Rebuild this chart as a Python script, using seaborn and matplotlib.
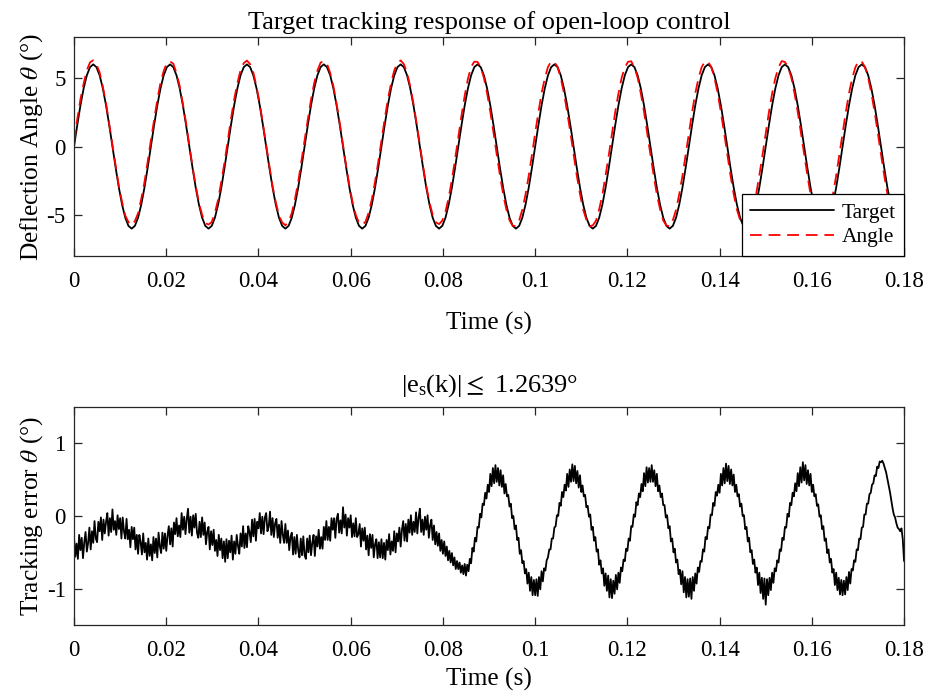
import numpy as np
import matplotlib
matplotlib.use("Agg")
import matplotlib.pyplot as plt
import seaborn as sns

# ---------------- data ----------------
# reference signal and measured deflection angle (deg), sampled 1440 Hz
target_deg = [
    0.00, 1.55, 3.00, 4.24, 5.20, 5.80, 6.00, 5.80, 5.20, 4.24, 3.00, 1.55,
    0.00, -1.55, -3.00, -4.24, -5.20, -5.80, -6.00, -5.80, -5.20, -4.24, -3.00, -1.55,
    0.00, 1.55, 3.00, 4.24, 5.20, 5.80, 6.00, 5.80, 5.20, 4.24, 3.00, 1.55,
    0.00, -1.55, -3.00, -4.24, -5.20, -5.80, -6.00, -5.80, -5.20, -4.24, -3.00, -1.55,
    0.00, 1.55, 3.00, 4.24, 5.20, 5.80, 6.00, 5.80, 5.20, 4.24, 3.00, 1.55,
    0.00, -1.55, -3.00, -4.24, -5.20, -5.80, -6.00, -5.80, -5.20, -4.24, -3.00, -1.55,
    0.00, 1.55, 3.00, 4.24, 5.20, 5.80, 6.00, 5.80, 5.20, 4.24, 3.00, 1.55,
    0.00, -1.55, -3.00, -4.24, -5.20, -5.80, -6.00, -5.80, -5.20, -4.24, -3.00, -1.55,
    0.00, 1.55, 3.00, 4.24, 5.20, 5.80, 6.00, 5.80, 5.20, 4.24, 3.00, 1.55,
    0.00, -1.55, -3.00, -4.24, -5.20, -5.80, -6.00, -5.80, -5.20, -4.24, -3.00, -1.55,
    0.00, 1.55, 3.00, 4.24, 5.20, 5.80, 6.00, 5.80, 5.20, 4.24, 3.00, 1.55,
    0.00, -1.55, -3.00, -4.24, -5.20, -5.80, -6.00, -5.80, -5.20, -4.24, -3.00, -1.55,
    0.00, 1.55, 3.00, 4.24, 5.20, 5.80, 6.00, 5.80, 5.20, 4.24, 3.00, 1.55,
    0.00, -1.55, -3.00, -4.24, -5.20, -5.80, -6.00, -5.80, -5.20, -4.24, -3.00, -1.55,
    0.00, 1.55, 3.00, 4.24, 5.20, 5.80, 6.00, 5.80, 5.20, 4.24, 3.00, 1.55,
    0.00, -1.55, -3.00, -4.24, -5.20, -5.80, -6.00, -5.80, -5.20, -4.24, -3.00, -1.55,
    0.00, 1.55, 3.00, 4.24, 5.20, 5.80, 6.00, 5.80, 5.20, 4.24, 3.00, 1.55,
    0.00, -1.55, -3.00, -4.24, -5.20, -5.80, -6.00, -5.80, -5.20, -4.24, -3.00, -1.55,
    0.00, 1.55, 3.00, 4.24, 5.20, 5.80, 6.00, 5.80, 5.20, 4.24, 3.00, 1.55,
    0.00, -1.55, -3.00, -4.24, -5.20, -5.80, -6.00, -5.80, -5.20, -4.24, -3.00, -1.55,
    0.00, 1.55, 3.00, 4.24, 5.20, 5.80, 6.00, 5.80, 5.20, 4.24, 3.00, 1.55,
    0.00, -1.55, -3.00, -4.24, -5.20, -5.80, -6.00, -5.80,
]

angle_deg = [
    0.30, 1.98, 3.45, 4.60, 5.58, 6.15, 6.30, 6.00, 5.41, 4.36, 3.15, 1.62,
    0.12, -1.40, -2.90, -4.05, -5.05, -5.52, -5.75, -5.45, -4.88, -3.82, -2.60, -1.10,
    0.46, 1.95, 3.40, 4.66, 5.52, 6.12, 6.22, 6.05, 5.36, 4.41, 3.10, 1.69,
    0.08, -1.46, -2.85, -4.12, -4.99, -5.60, -5.70, -5.52, -4.83, -3.88, -2.55, -1.15,
    0.42, 2.00, 3.44, 4.61, 5.57, 6.09, 6.28, 6.01, 5.40, 4.37, 3.14, 1.64,
    0.12, -1.42, -2.90, -4.07, -5.04, -5.55, -5.76, -5.47, -4.87, -3.83, -2.60, -1.10,
    0.45, 1.97, 3.41, 4.64, 5.54, 6.13, 6.25, 6.04, 5.37, 4.40, 3.11, 1.67,
    0.09, -1.45, -2.87, -4.10, -5.01, -5.58, -5.72, -5.50, -4.84, -3.86, -2.57, -1.13,
    0.43, 1.99, 3.43, 4.62, 5.56, 6.10, 6.29, 6.02, 5.40, 4.38, 3.13, 1.65,
    0.11, -1.43, -2.89, -4.08, -4.99, -5.54, -5.67, -5.41, -4.75, -3.73, -2.42, -0.92,
    0.70, 2.27, 3.72, 4.94, 5.82, 6.20, 6.18, 5.80, 5.01, 3.89, 2.52, 1.00,
    -0.58, -2.10, -3.48, -4.59, -5.39, -5.80, -5.80, -5.40, -4.61, -3.49, -2.12, -0.60,
    0.98, 2.48, 3.90, 4.97, 5.81, 6.22, 6.17, 5.82, 4.99, 3.91, 2.50, 1.02,
    -0.56, -2.12, -3.46, -4.61, -5.36, -5.83, -5.76, -5.42, -4.58, -3.51, -2.10, -0.62,
    0.96, 2.52, 3.86, 5.01, 5.77, 6.19, 6.23, 5.78, 5.03, 3.87, 2.54, 0.98,
    -0.60, -2.08, -3.50, -4.57, -5.41, -5.77, -5.83, -5.38, -4.63, -3.47, -2.14, -0.58,
    1.00, 2.49, 3.89, 4.98, 5.80, 6.21, 6.19, 5.81, 5.00, 3.90, 2.51, 1.01,
    -0.57, -2.11, -3.47, -4.60, -5.37, -5.82, -5.78, -5.41, -4.60, -3.50, -2.11, -0.61,
    0.97, 2.51, 3.87, 5.00, 5.78, 6.24, 6.18, 5.79, 5.02, 3.88, 2.53, 0.99,
    -0.59, -2.09, -3.49, -4.58, -5.40, -5.79, -5.81, -5.39, -4.62, -3.48, -2.13, -0.59,
    0.99, 2.50, 3.88, 4.99, 5.79, 6.26, 6.21, 5.80, 5.01, 3.89, 2.52, 1.00,
    -0.58, -2.10, -3.48, -4.59, -5.39, -5.80, -5.80, -5.40,
]

# tracking error (deg), sampled 3600 Hz
error_deg = [
    -0.30, -0.56, -0.38, -0.59, -0.26, -0.47, -0.30, -0.58, -0.36, -0.22,
    -0.49, -0.37, -0.16, -0.46, -0.21, -0.37, -0.07, -0.31, -0.36, -0.08,
    -0.21, -0.02, -0.33, -0.05, -0.24, -0.08, 0.04, -0.27, -0.03, -0.22,
    0.09, -0.19, -0.07, -0.26, 0.01, -0.18, -0.03, -0.31, -0.02, -0.21,
    -0.31, -0.04, -0.32, -0.19, -0.43, -0.15, -0.32, -0.16, -0.46, -0.26,
    -0.52, -0.26, -0.36, -0.53, -0.24, -0.50, -0.37, -0.60, -0.31, -0.55,
    -0.39, -0.61, -0.29, -0.51, -0.31, -0.57, -0.23, -0.42, -0.51, -0.23,
    -0.45, -0.24, -0.48, -0.27, -0.14, -0.39, -0.17, -0.42, -0.09, -0.25,
    -0.03, -0.28, -0.13, -0.29, 0.04, -0.19, -0.01, -0.25, -0.04, 0.10,
    -0.23, -0.01, -0.27, 0.01, -0.16, 0.03, -0.23, -0.30, -0.08, -0.29,
    -0.02, -0.26, -0.09, -0.39, -0.22, -0.15, -0.46, -0.21, -0.40, -0.19,
    -0.48, -0.33, -0.55, -0.26, -0.47, -0.31, -0.58, -0.35, -0.63, -0.32,
    -0.58, -0.34, -0.50, -0.27, -0.60, -0.35, -0.52, -0.26, -0.41, -0.52,
    -0.24, -0.42, -0.14, -0.44, -0.24, -0.43, -0.14, -0.22, -0.36, -0.05,
    -0.28, -0.04, -0.34, -0.08, -0.17, 0.04, -0.24, -0.01, -0.25, -0.02,
    0.04, -0.21, -0.15, 0.06, -0.26, -0.03, -0.29, -0.10, -0.04, -0.30,
    -0.12, -0.37, -0.07, -0.26, -0.37, -0.11, -0.37, -0.20, -0.47, -0.29,
    -0.23, -0.53, -0.29, -0.52, -0.26, -0.47, -0.57, -0.31, -0.54, -0.28,
    -0.54, -0.59, -0.31, -0.50, -0.27, -0.54, -0.37, -0.26, -0.55, -0.28,
    -0.42, -0.19, -0.45, -0.29, -0.45, -0.15, -0.33, -0.07, -0.33, -0.15,
    -0.34, -0.03, -0.19, -0.03, -0.30, -0.04, 0.03, -0.23, -0.06, -0.24,
    0.12, -0.16, 0.02, -0.27, -0.03, -0.16, 0.01, -0.29, -0.10, -0.28,
    -0.03, -0.29, -0.25, -0.11, -0.42, -0.17, -0.34, -0.16, -0.46, -0.27,
    -0.54, -0.25, -0.44, -0.26, -0.57, -0.39, -0.32, -0.58, -0.36, -0.57,
    -0.32, -0.58, -0.37, -0.60, -0.33, -0.47, -0.25, -0.53, -0.35, -0.48,
    -0.21, -0.50, -0.24, -0.35, -0.16, -0.42, -0.19, -0.07, -0.34, -0.11,
    -0.35, -0.05, -0.23, 0.01, -0.26, -0.08, -0.22, 0.05, -0.24, -0.02,
    0.10, -0.22, -0.05, -0.26, -0.01, -0.19, 0.01, -0.30, -0.13, -0.05,
    -0.33, -0.13, -0.39, -0.22, -0.41, -0.24, -0.48, -0.33, -0.52, -0.35,
    -0.55, -0.42, -0.61, -0.48, -0.64, -0.51, -0.68, -0.57, -0.73, -0.62,
    -0.73, -0.64, -0.78, -0.68, -0.80, -0.66, -0.82, -0.67, -0.76, -0.59,
    -0.65, -0.44, -0.49, -0.30, -0.35, -0.15, -0.16, 0.03, -0.02, 0.17,
    0.15, 0.32, 0.24, 0.43, 0.33, 0.58, 0.41, 0.66, 0.45, 0.70,
    0.47, 0.66, 0.42, 0.63, 0.40, 0.56, 0.31, 0.44, 0.27, 0.29,
    0.13, 0.17, -0.03, 0.00, -0.18, -0.13, -0.33, -0.30, -0.52, -0.47,
    -0.65, -0.62, -0.79, -0.73, -0.93, -0.78, -1.03, -0.84, -1.09, -0.88,
    -1.09, -0.87, -1.10, -0.84, -1.01, -0.76, -0.90, -0.72, -0.75, -0.61,
    -0.57, -0.46, -0.46, -0.31, -0.31, -0.16, -0.14, 0.01, 0.00, 0.18,
    0.14, 0.33, 0.26, 0.43, 0.35, 0.58, 0.40, 0.64, 0.47, 0.71,
    0.48, 0.69, 0.45, 0.62, 0.39, 0.56, 0.33, 0.42, 0.27, 0.29,
    0.12, 0.14, -0.01, 0.02, -0.19, -0.15, -0.34, -0.29, -0.49, -0.46,
    -0.67, -0.61, -0.79, -0.72, -0.96, -0.79, -1.03, -0.82, -1.12, -0.87,
    -1.13, -0.89, -1.07, -0.81, -1.01, -0.78, -0.92, -0.71, -0.76, -0.60,
    -0.62, -0.45, -0.48, -0.31, -0.34, -0.14, -0.15, 0.02, -0.01, 0.19,
    0.15, 0.31, 0.26, 0.44, 0.34, 0.59, 0.41, 0.67, 0.46, 0.66,
    0.47, 0.70, 0.47, 0.63, 0.41, 0.58, 0.34, 0.42, 0.26, 0.31,
    0.15, 0.15, -0.02, 0.01, -0.17, -0.14, -0.35, -0.31, -0.50, -0.45,
    -0.64, -0.60, -0.80, -0.74, -0.94, -0.76, -1.05, -0.84, -1.12, -0.87,
    -1.11, -0.86, -1.14, -0.84, -1.03, -0.79, -0.93, -0.71, -0.77, -0.62,
    -0.63, -0.46, -0.49, -0.29, -0.32, -0.15, -0.17, 0.02, 0.01, 0.18,
    0.14, 0.33, 0.28, 0.43, 0.32, 0.58, 0.42, 0.66, 0.45, 0.72,
    0.48, 0.69, 0.44, 0.64, 0.42, 0.57, 0.33, 0.43, 0.27, 0.30,
    0.13, 0.17, 0.00, 0.01, -0.18, -0.15, -0.35, -0.30, -0.50, -0.47,
    -0.66, -0.60, -0.78, -0.71, -0.95, -0.78, -1.06, -0.85, -1.14, -0.86,
    -1.22, -0.87, -1.09, -0.85, -1.02, -0.78, -0.92, -0.72, -0.76, -0.61,
    -0.64, -0.46, -0.48, -0.30, -0.33, -0.15, -0.16, 0.03, -0.01, 0.18,
    0.15, 0.32, 0.27, 0.45, 0.34, 0.59, 0.41, 0.67, 0.46, 0.74,
    0.49, 0.70, 0.44, 0.63, 0.42, 0.58, 0.33, 0.43, 0.27, 0.30,
    0.14, 0.16, -0.01, 0.01, -0.18, -0.14, -0.34, -0.31, -0.51, -0.46,
    -0.64, -0.59, -0.78, -0.73, -0.95, -0.78, -1.02, -0.85, -1.08, -0.88,
    -1.09, -0.89, -1.08, -0.84, -1.02, -0.77, -0.93, -0.73, -0.75, -0.61,
    -0.63, -0.46, -0.47, -0.31, -0.32, -0.16, -0.15, 0.02, 0.02, 0.17,
    0.17, 0.30, 0.32, 0.43, 0.45, 0.56, 0.55, 0.68, 0.66, 0.75,
    0.74, 0.76, 0.72, 0.66, 0.60, 0.51, 0.42, 0.33, 0.22, 0.11,
    0.02, -0.02, -0.10, -0.16, -0.18, -0.21, -0.17, -0.32, -0.62,
]

time_ticks = [0, 0.02, 0.04, 0.06, 0.08, 0.10, 0.12, 0.14, 0.16, 0.18]
time_tick_labels = ["0", "0.02", "0.04", "0.06", "0.08", "0.1", "0.12", "0.14", "0.16", "0.18"]
angle_ticks = [-5, 0, 5]
angle_tick_labels = ["-5", "0", "5"]
error_ticks = [-1, 0, 1]
error_tick_labels = ["-1", "0", "1"]

ANGLE_RATE = 1440.0   # Hz
ERROR_RATE = 3600.0   # Hz
t_angle = np.arange(len(target_deg)) / ANGLE_RATE
t_error = np.arange(len(error_deg)) / ERROR_RATE

# ---------------- style ----------------
sns.set_theme(style="ticks")
ink = "#262626"
plt.rcParams.update({
    "font.family": ["Liberation Serif", "DejaVu Serif"],
    "mathtext.fontset": "stix",
    "axes.unicode_minus": False,
    "axes.edgecolor": ink,
    "axes.linewidth": 0.9,
    "xtick.color": ink,
    "ytick.color": ink,
    "xtick.labelcolor": "black",
    "ytick.labelcolor": "black",
    "text.color": "black",
    "axes.labelcolor": "black",
})

fig = plt.figure(figsize=(9.3, 6.97), dpi=100)
ax1 = fig.add_axes([0.0796, 0.6327, 0.8925, 0.3142])
ax2 = fig.add_axes([0.0796, 0.1033, 0.8925, 0.3128])

TICK_FS = 16.5
LABEL_FS = 18.3
TITLE_FS = 19
LW = 1.3

# ---- upper panel: target vs. measured angle ----
sns.lineplot(x=t_angle, y=target_deg, ax=ax1, color="black", linewidth=LW,
             label="Target", estimator=None, sort=False)
sns.lineplot(x=t_angle, y=angle_deg, ax=ax1, color="red", linewidth=LW,
             linestyle="--", label="Angle", estimator=None, sort=False)
ax1.lines[-1].set_dashes((6.5, 3.8))

ax1.set_xlim(0, 0.18)
ax1.set_ylim(-8, 8)
ax1.set_xticks(time_ticks)
ax1.set_xticklabels(time_tick_labels)
ax1.set_yticks(angle_ticks)
ax1.set_yticklabels(angle_tick_labels)
ax1.set_title("Target tracking response of open-loop control", fontsize=TITLE_FS, pad=6)
ax1.set_xlabel("Time (s)", fontsize=LABEL_FS, labelpad=14)
ax1.set_ylabel(r"Deflection Angle $\theta$ (°)", fontsize=LABEL_FS, labelpad=1)

leg = ax1.legend(loc="lower right", borderaxespad=0, frameon=True, fancybox=False,
                 edgecolor="black", framealpha=1, fontsize=15.5, handlelength=3.9,
                 handletextpad=0.33, borderpad=0.4, labelspacing=0.2)
leg.get_frame().set_linewidth(0.9)

# ---- lower panel: tracking error ----
sns.lineplot(x=t_error, y=error_deg, ax=ax2, color="black", linewidth=LW,
             estimator=None, sort=False, legend=False)
ax2.set_xlim(0, 0.18)
ax2.set_ylim(-1.5, 1.5)
ax2.set_xticks(time_ticks)
ax2.set_xticklabels(time_tick_labels)
ax2.set_yticks(error_ticks)
ax2.set_yticklabels(error_tick_labels)
ax2.set_title(r"|$\mathregular{e_s}$(k)|$\leq$ 1.2639°", fontsize=TITLE_FS, pad=11)
ax2.set_xlabel("Time (s)", fontsize=LABEL_FS, labelpad=5)
ax2.set_ylabel(r"Tracking error $\theta$ (°)", fontsize=LABEL_FS, labelpad=1)

for ax in (ax1, ax2):
    ax.tick_params(axis="both", which="major", direction="in", length=5.5,
                   width=0.9, labelsize=TICK_FS, top=True, right=True)
    ax.tick_params(axis="x", pad=11)
    ax.tick_params(axis="y", pad=6)
    for s in ax.spines.values():
        s.set_visible(True)
        s.set_color(ink)

fig.savefig("out.png", dpi=100, facecolor="white")
